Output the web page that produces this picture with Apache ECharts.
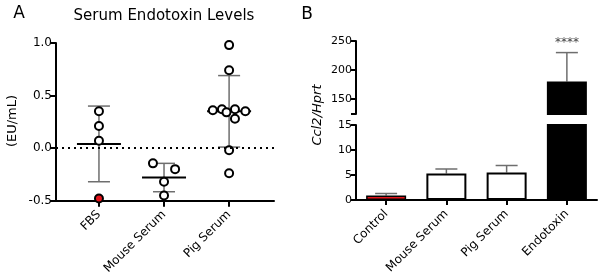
<!DOCTYPE html>
<html>
<head>
<meta charset="utf-8">
<script src="https://cdn.jsdelivr.net/npm/echarts@6/dist/echarts.min.js"></script>
<style>
html, body { margin: 0; padding: 0; background: #fff; }
#main { width: 600px; height: 277px; }
</style>
</head>
<body>
<div id="main"></div>
<script>
// panel A - serum endotoxin (EU/mL), one circle per sample
var serumGroups = ['FBS', 'Mouse Serum', 'Pig Serum'];
var fbsValues = [0.35, 0.21, 0.07, -0.48];
var fbsOffsets = [0, 0, 0, 0];
var mouseValues = [-0.145, -0.20, -0.32, -0.45];
var mouseOffsets = [-0.17, 0.17, 0, 0];
var pigValues = [0.98, 0.74, 0.36, 0.37, 0.34, 0.37, 0.35, 0.28, -0.02, -0.24];
var pigOffsets = [0, 0, -0.25, -0.11, -0.04, 0.09, 0.25, 0.09, 0, 0];
var serumMean = [0.04, -0.28, 0.35];
var serumSd = [0.36, 0.135, 0.34];

// panel B - Ccl2/Hprt expression
var geneGroups = ['Control', 'Mouse Serum', 'Pig Serum', 'Endotoxin'];
var ccl2Mean = [0.9, 5.3, 5.5, 180];
var ccl2Sd = [0.4, 0.9, 1.4, 50];
var sigLabels = ['', '', '', '****'];
var upperTicks = [150, 200, 250];

var FONT = 'DejaVu Sans';
var GREY = '#6e6e6e';

function groupPoints(gi, values, offsets) {
    return values.map(function (v, k) { return [gi + offsets[k], v]; });
}
var scatterData = [].concat(
    groupPoints(0, fbsValues, fbsOffsets),
    groupPoints(1, mouseValues, mouseOffsets),
    groupPoints(2, pigValues, pigOffsets)
);
// the low FBS sample is drawn red
scatterData[3] = { value: scatterData[3], itemStyle: { color: '#e3141b' } };

var barData = ccl2Mean.map(function (v, i) {
    var fill = i === 0 ? '#e3141b' : (i === 3 ? '#000' : '#fff');
    return { value: v, itemStyle: { color: fill, borderColor: '#000', borderWidth: i === 0 ? 1.5 : 2 } };
});
var errData = ccl2Mean.map(function (v, i) { return [i, v, ccl2Sd[i]]; });

// mean + SD for panel A
function meanSdItem(params, api) {
    var x = api.value(0), m = api.value(1), s = api.value(2);
    var c = api.coord([x, m]);
    var hi = api.coord([x, m + s]);
    var lo = api.coord([x, m - s]);
    var grey = { stroke: GREY, lineWidth: 1.5 };
    return {
        type: 'group',
        children: [
            { type: 'line', shape: { x1: c[0], y1: hi[1], x2: c[0], y2: lo[1] }, style: grey },
            { type: 'line', shape: { x1: c[0] - 11, y1: hi[1], x2: c[0] + 11, y2: hi[1] }, style: grey },
            { type: 'line', shape: { x1: c[0] - 11, y1: lo[1], x2: c[0] + 11, y2: lo[1] }, style: grey },
            { type: 'line', shape: { x1: c[0] - 22, y1: c[1], x2: c[0] + 22, y2: c[1] }, style: { stroke: '#000', lineWidth: 2 } }
        ]
    };
}

// upper error bar only, for panel B
function errItem(params, api) {
    var x = api.value(0), m = api.value(1), s = api.value(2);
    var c = api.coord([x, m]);
    var hi = api.coord([x, m + s]);
    var grey = { stroke: GREY, lineWidth: 1.5 };
    return {
        type: 'group',
        children: [
            { type: 'line', shape: { x1: c[0], y1: c[1], x2: c[0], y2: hi[1] }, style: grey },
            { type: 'line', shape: { x1: c[0] - 11, y1: hi[1], x2: c[0] + 11, y2: hi[1] }, style: grey }
        ]
    };
}

function starItem(params, api) {
    var p = api.coord([api.value(0), api.value(1) + api.value(2)]);
    return {
        type: 'text',
        x: p[0], y: p[1] - 10,
        style: { text: sigLabels[params.dataIndex], fill: '#444', font: '12px "' + FONT + '"', align: 'center', verticalAlign: 'middle' }
    };
}

function blackLine() {
    return { show: true, onZero: false, lineStyle: { color: '#000', width: 2 } };
}

option = {
    animation: false,
    textStyle: { fontFamily: FONT },
    graphic: [
        { type: 'text', x: 19, y: 14, style: { text: 'A', fill: '#000', font: '17px "' + FONT + '"', align: 'center', verticalAlign: 'middle' } },
        { type: 'text', x: 164, y: 16, style: { text: 'Serum Endotoxin Levels', fill: '#000', font: '15px "' + FONT + '"', align: 'center', verticalAlign: 'middle' } },
        { type: 'text', x: 307, y: 15, style: { text: 'B', fill: '#000', font: '17px "' + FONT + '"', align: 'center', verticalAlign: 'middle' } },
        { type: 'text', x: 13, y: 121, rotation: Math.PI / 2, style: { text: '(EU/mL)', fill: '#000', font: '13px "' + FONT + '"', align: 'center', verticalAlign: 'middle' } },
        { type: 'text', x: 318, y: 115, rotation: Math.PI / 2, style: { text: 'Ccl2/Hprt', fill: '#000', font: 'italic 13px "' + FONT + '"', align: 'center', verticalAlign: 'middle' } }
    ],
    grid: [
        { left: 56, top: 43, width: 218, height: 159 },
        { left: 356, top: 125, width: 241, height: 75 },
        { left: 356, top: 41, width: 241, height: 73 }
    ],
    xAxis: [
        {
            type: 'value', gridIndex: 0, min: -0.66, max: 2.69,
            axisLine: blackLine(),
            axisTick: { show: true, customValues: [0, 1, 2], length: 6, lineStyle: { color: '#000', width: 2 } },
            axisLabel: {
                customValues: [0, 1, 2], rotate: 45, fontSize: 12, color: '#000', margin: 12,
                formatter: function (v) { return serumGroups[Math.round(v)]; }
            },
            splitLine: { show: false }
        },
        {
            type: 'category', gridIndex: 1, data: geneGroups,
            axisLine: blackLine(),
            axisTick: { show: true, alignWithLabel: true, length: 5, lineStyle: { color: '#000', width: 2 } },
            axisLabel: { rotate: 45, fontSize: 12, color: '#000', margin: 12, interval: 0 }
        },
        { type: 'category', gridIndex: 2, data: geneGroups, show: false }
    ],
    yAxis: [
        {
            type: 'value', gridIndex: 0, min: -0.5, max: 1.0, interval: 0.5,
            axisLine: blackLine(),
            axisTick: { show: true, length: 6, lineStyle: { color: '#000', width: 2 } },
            axisLabel: { fontSize: 12, color: '#000', margin: 4, formatter: function (v) { return v.toFixed(1); } },
            splitLine: { show: false }
        },
        {
            type: 'value', gridIndex: 1, min: 0, max: 15, interval: 5,
            axisLine: blackLine(),
            axisTick: { show: true, length: 5, lineStyle: { color: '#000', width: 2 } },
            axisLabel: { fontSize: 11, color: '#000', margin: 4 },
            splitLine: { show: false }
        },
        {
            type: 'value', gridIndex: 2, min: 124, max: 250,
            axisLine: blackLine(),
            axisTick: { show: true, customValues: [124].concat(upperTicks), length: 5, lineStyle: { color: '#000', width: 2 } },
            axisLabel: { customValues: upperTicks, fontSize: 11, color: '#000', margin: 4 },
            splitLine: { show: false }
        }
    ],
    series: [
        {
            type: 'custom', name: 'mean sd', xAxisIndex: 0, yAxisIndex: 0, z: 2,
            data: serumMean.map(function (m, i) { return [i, m, serumSd[i]]; }),
            encode: { x: 0, y: 1 },
            renderItem: meanSdItem
        },
        {
            type: 'scatter', name: 'serum', xAxisIndex: 0, yAxisIndex: 0, z: 3,
            symbol: 'circle', symbolSize: 8,
            itemStyle: { color: '#fff', borderColor: '#000', borderWidth: 2, opacity: 1 },
            data: scatterData,
            markLine: {
                silent: true, symbol: ['none', 'none'], label: { show: false },
                lineStyle: { color: '#000', width: 2, type: [2, 4] },
                data: [{ yAxis: 0 }]
            }
        },
        {
            type: 'custom', name: 'err low', xAxisIndex: 1, yAxisIndex: 1, clip: true, z: 1,
            data: errData, encode: { x: 0, y: 1 }, renderItem: errItem
        },
        {
            type: 'bar', name: 'ccl2 low', xAxisIndex: 1, yAxisIndex: 1, barWidth: 40, clip: true, z: 2,
            data: barData
        },
        {
            type: 'custom', name: 'err high', xAxisIndex: 2, yAxisIndex: 2, clip: true, z: 1,
            data: errData, encode: { x: 0, y: 1 }, renderItem: errItem
        },
        {
            type: 'bar', name: 'ccl2 high', xAxisIndex: 2, yAxisIndex: 2, barWidth: 40, clip: true, z: 2,
            data: barData
        },
        {
            type: 'custom', name: 'stars', xAxisIndex: 2, yAxisIndex: 2, clip: false, z: 3,
            data: errData, encode: { x: 0, y: 1 }, renderItem: starItem
        }
    ]
};

var chart = echarts.init(document.getElementById('main'));
chart.setOption(option, true);
</script>
</body>
</html>
